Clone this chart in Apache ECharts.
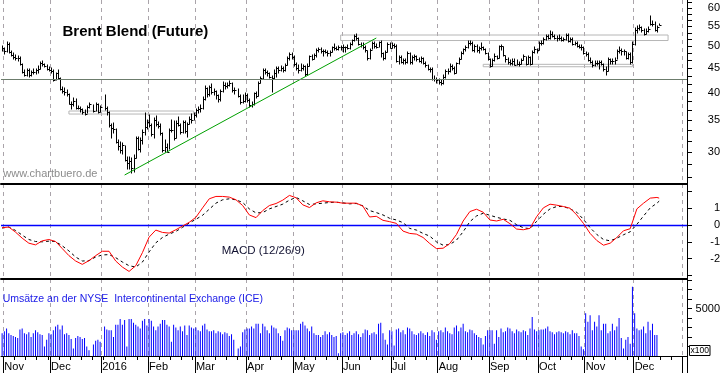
<!DOCTYPE html>
<html><head><meta charset="utf-8">
<script src="https://cdn.jsdelivr.net/npm/echarts@6/dist/echarts.min.js"></script>
<style>html,body{margin:0;padding:0;background:#fff}#c{width:723px;height:373px}</style>
</head><body><div id="c"></div>
<script>
// ---- Data ----
// Daily bars from 2015-10-30 (index 0) on weekday calendar; null = no trading
const closePrice = [
49.56,48.79,50.54,48.58,47.98,47.42,47.19,47.14,45.81,44.06,43.61,44.56,43.57,44.14,44.18,44.66,44.83,46.12,45.87,45.46,44.86,44.61,
44.44,42.49,43.84,43.00,40.73,40.26,40.11,39.73,37.93,37.92,38.45,37.19,37.06,36.88,36.35,36.11,37.36,37.89,null,36.62,37.79,36.46,37.28,
null,37.22,36.42,34.23,33.75,33.55,31.55,30.86,30.31,31.03,28.94,28.55,28.76,27.88,29.25,32.18,30.50,31.80,33.10,33.89,34.74,
34.24,32.72,35.04,34.46,34.06,32.88,30.32,30.84,30.06,33.36,33.39,32.18,34.50,34.28,33.01,34.69,33.27,34.41,35.29,35.10,35.97,
36.81,36.93,37.07,38.72,40.84,39.65,41.07,40.05,40.39,39.53,38.74,40.33,41.54,41.20,41.54,41.79,40.47,40.44,null,39.39,38.29,38.32,39.60,
38.67,37.69,37.87,39.84,39.43,41.94,42.83,44.69,44.18,43.84,43.10,42.91,44.03,45.00,44.53,45.11,44.48,45.74,47.18,48.14,47.37,
45.83,44.97,44.62,45.01,45.37,43.63,45.52,47.59,47.08,47.83,48.97,49.28,48.93,48.81,48.72,48.35,48.61,49.74,49.59,49.32,49.76,49.69,
49.72,49.72,49.64,50.55,51.44,52.51,51.95,50.54,50.35,49.83,48.97,47.19,49.17,50.65,49.96,49.88,50.91,48.41,47.16,48.58,50.61,49.68,
50.35,50.10,46.60,47.43,46.40,46.76,46.25,48.47,46.26,47.37,47.61,46.96,46.66,47.17,46.20,45.69,44.72,44.87,42.70,42.70,42.46,
42.14,41.80,43.10,44.29,44.27,45.39,44.98,44.05,46.04,46.97,48.35,49.23,49.85,50.89,50.88,49.16,49.96,49.05,49.67,49.92,49.26,48.37,47.04,
45.45,46.83,47.63,47.26,49.98,49.99,48.01,47.10,46.29,46.10,46.59,45.77,45.95,45.88,46.83,47.65,45.89,47.35,45.97,48.69,49.24,49.06,
50.89,50.87,51.86,52.51,51.93,53.14,52.41,52.03,52.03,51.95,51.52,51.68,52.67,51.38,51.78,50.52,50.79,49.98,49.72,49.71,48.30,
48.14,46.86,46.35,45.58,46.15,46.04,46.36,45.84,44.75,44.43,46.95,46.63,46.49,46.86,48.90,49.12,48.95,48.80,47.24,48.24,46.38,50.47,
53.94,54.46,54.94,53.93,53.00,53.89,54.33,55.69,55.72,54.02,54.90,55.40
];
const highPrice = [
50.05,49.60,50.90,50.70,48.90,48.30,47.90,47.60,47.50,45.90,44.50,44.90,44.80,44.40,44.90,44.90,45.40,46.40,46.50,46.00,45.60,45.20,
45.00,44.60,44.00,44.50,43.00,41.00,40.90,40.50,39.80,38.30,38.90,38.80,37.50,37.40,36.90,36.80,37.50,38.10,null,37.60,38.00,37.80,37.50,
null,39.50,37.40,36.50,34.40,34.50,33.60,31.90,31.50,31.40,30.90,29.40,29.40,29.20,29.60,32.30,32.30,32.20,33.40,36.20,35.00,
35.90,34.30,35.40,35.80,34.70,34.40,32.90,31.90,31.20,33.50,35.00,34.80,34.80,35.50,34.40,34.90,34.80,34.60,35.50,36.00,36.20,
37.00,37.30,37.60,39.10,41.20,40.90,41.30,41.70,40.70,40.30,39.60,40.50,42.00,41.90,41.90,42.20,41.90,40.80,null,40.70,39.60,39.50,39.90,
39.80,38.80,38.20,40.00,40.20,42.10,43.10,44.90,44.80,44.40,44.00,43.40,44.60,45.30,45.20,45.50,45.20,45.90,47.40,48.50,48.30,
47.70,46.10,45.60,45.80,45.60,45.50,45.90,47.70,47.90,48.10,49.30,49.60,49.60,49.00,49.00,48.80,48.90,49.90,50.50,49.80,50.00,50.10,
50.20,49.90,50.20,50.80,51.60,52.80,52.90,52.00,50.80,50.80,50.00,48.90,49.40,51.00,50.90,50.60,51.10,51.30,48.50,48.80,50.70,50.80,
50.70,50.50,50.30,47.80,47.80,47.00,47.10,48.60,48.30,47.60,47.90,47.80,47.20,47.50,47.30,46.40,45.60,45.00,45.10,43.30,43.00,
42.70,42.40,43.50,44.50,44.90,45.80,45.60,45.20,46.20,47.30,48.70,49.40,50.10,51.20,51.20,50.90,50.20,50.20,49.90,50.80,49.90,49.40,48.50,
47.10,47.10,48.10,47.80,50.10,50.20,49.90,47.80,47.30,46.70,46.90,46.90,46.70,46.40,47.10,47.90,47.50,47.60,47.50,48.80,49.70,49.40,
51.00,51.30,52.10,52.80,52.70,53.70,53.60,52.70,52.40,52.70,52.20,52.10,53.10,52.90,52.00,51.90,51.00,50.90,50.40,50.20,49.90,
48.70,48.30,47.30,46.50,46.50,46.50,46.60,46.50,45.90,45.20,47.20,47.00,47.00,47.20,49.20,49.80,49.40,49.00,48.60,48.50,48.50,50.90,
54.50,55.20,55.40,54.80,54.30,54.20,54.80,57.90,56.40,56.20,55.00,55.50
];
const lowPrice = [
48.90,48.20,48.70,48.40,47.70,47.00,46.80,46.60,45.60,43.90,43.30,43.40,43.20,43.40,43.80,43.80,44.00,44.70,45.50,45.20,44.50,44.30,
43.90,42.20,42.40,42.60,40.50,39.90,39.50,39.40,37.80,36.90,37.50,37.00,36.90,36.50,36.10,35.98,36.20,37.20,null,36.40,36.60,36.30,36.40,
null,36.80,35.90,33.90,32.20,32.90,31.40,30.30,29.90,29.80,28.80,27.70,27.70,27.10,27.30,29.20,30.40,30.00,31.30,32.60,33.50,
33.90,32.40,32.20,34.10,33.70,32.60,30.10,30.00,30.10,30.50,33.10,31.90,32.20,34.00,32.70,33.00,32.90,32.30,34.30,34.60,35.00,
35.60,36.30,36.50,36.90,38.60,39.20,39.40,39.80,39.60,38.80,38.30,38.40,40.20,40.60,40.90,41.20,40.20,39.80,null,39.10,37.90,38.00,38.30,
38.30,37.40,37.30,37.70,39.00,39.40,41.80,42.60,43.80,43.40,42.80,40.10,42.70,43.10,44.00,44.30,44.20,44.30,45.60,46.80,47.00,
45.50,44.60,43.90,44.30,44.60,43.40,43.60,45.40,46.70,46.90,47.40,48.60,48.30,47.80,48.30,47.80,47.70,48.70,49.10,49.00,49.10,49.10,
48.70,48.70,49.30,49.40,50.30,51.30,51.60,50.30,49.80,49.40,48.70,46.70,47.10,49.30,49.50,49.50,49.70,47.50,46.70,47.10,48.70,49.50,
49.60,49.60,46.40,45.80,46.10,45.90,45.90,46.20,46.00,46.00,46.80,46.60,46.30,46.10,46.00,45.30,44.50,44.10,42.50,42.30,41.90,
41.70,41.50,41.60,42.90,43.80,44.20,44.60,43.80,44.00,45.90,46.90,48.20,48.80,49.60,50.30,48.80,48.70,48.70,48.50,49.10,49.00,48.10,46.70,
45.30,45.50,46.60,46.90,47.20,49.10,47.70,46.40,45.90,45.70,45.70,45.60,45.60,45.50,45.80,46.80,45.70,45.90,45.60,45.80,48.50,48.40,
49.00,50.40,50.60,51.60,51.70,51.70,52.20,51.80,51.20,51.60,51.30,51.30,51.60,51.10,51.00,50.40,50.20,49.80,49.50,49.00,48.10,
47.80,46.60,46.10,45.20,45.40,45.70,44.90,45.60,44.40,43.60,44.40,45.90,45.90,46.00,46.90,48.50,48.00,47.90,46.90,46.90,46.00,46.10,
50.40,53.20,54.00,53.50,52.80,52.90,53.50,55.30,55.20,53.70,53.60,55.30
];
// Volume (x100 contracts)
const volume = [
2400,2600,2900,2400,2200,2100,2000,1900,2800,2900,2400,2300,2500,2000,2400,2700,2500,2300,2200,1000,1700,2400,
2300,2700,3100,3300,2800,3200,2300,2400,2200,1800,800,1900,2100,2000,1800,1900,1000,600,null,1200,1600,1700,1500,
null,3100,2800,2700,2700,2000,3300,3300,3900,3300,3800,1000,3900,3900,3500,3300,3100,2900,3700,3900,3200,
3900,3700,3100,2700,3100,3400,3800,3800,3300,3100,1500,3300,3000,2700,3100,2600,3200,2200,3200,3000,2900,
3000,2700,2600,3200,3400,2800,2600,2600,2700,2400,2600,2500,2300,2500,2400,2100,2300,1700,null,800,1000,2500,2800,
2900,2900,3100,2900,3400,3400,2400,3400,3100,2700,2400,3200,3000,2900,2400,2100,1600,2700,3000,2900,2700,
2700,2700,2700,3400,3600,3200,2900,2600,3100,2400,2200,2200,2000,2200,2600,2300,2500,2200,2000,2100,300,2400,
2500,2200,2400,2600,2200,2400,2600,2300,2000,2400,2800,2700,2200,2400,2500,2300,3400,3500,2400,1700,1200,2700,
2600,1100,2800,2900,2500,2700,2300,3000,2900,2600,2300,2200,2400,2600,2400,2200,2500,2100,2700,2500,1700,
2600,2700,2500,3000,2600,2400,2300,3000,3200,2600,3000,3400,2600,2500,2800,2700,2400,2200,2000,1900,1200,2100,2700,
2700,2700,1300,2700,2000,2900,2500,2600,3000,2900,2600,2400,2800,2600,2500,2700,2600,2200,2900,4100,2800,2600,
2700,2800,2800,2900,3100,2600,2500,2300,2500,2600,2500,2400,2600,2500,2300,2700,2400,2400,2100,1000,700,
4500,3600,4300,2700,3600,3100,4300,2700,3400,3400,2400,2600,3400,2700,3100,4000,1900,800,1700,2000,1300,7300,
4500,2900,2700,2800,3100,2400,3600,2700,3400,2200,2200
];
// MACD (12/26/9), read every 3rd trading day (last value = last trading day)
const macdLine = [
-0.16,-0.12,-0.42,-0.78,-1.08,-1.18,-0.94,-0.86,-0.98,-1.40,-1.82,-2.14,-2.34,-2.12,-1.82,-1.56,-1.56,-2.14,-2.50,-2.76,
-2.42,-1.64,-0.72,-0.30,-0.44,-0.48,-0.28,-0.06,0.16,0.46,1.02,1.56,1.70,1.70,1.66,1.50,1.16,0.60,0.44,0.86,
1.16,1.28,1.48,1.76,1.62,1.20,1.04,1.32,1.44,1.38,1.36,1.30,1.30,1.30,1.12,0.48,0.52,0.28,0.20,0.10,
-0.36,-0.50,-0.54,-0.74,-1.10,-1.40,-1.38,-1.10,-0.56,0.24,0.80,0.94,0.76,0.30,0.24,0.34,0.08,-0.24,-0.28,-0.20,
0.50,1.02,1.24,1.18,1.10,1.00,0.60,0.10,-0.50,-0.92,-1.20,-1.08,-0.74,-0.34,-0.22,0.96,1.30,1.60,1.64,1.60
];
const signalLine = [
-0.18,-0.12,-0.32,-0.60,-0.86,-0.98,-1.00,-0.96,-0.98,-1.24,-1.54,-1.90,-2.14,-2.12,-1.90,-1.78,-1.76,-1.94,-2.20,-2.42,
-2.50,-2.20,-1.60,-1.06,-0.74,-0.54,-0.38,-0.14,0.12,0.34,0.58,0.94,1.30,1.50,1.56,1.50,1.34,0.96,0.72,0.74,
0.96,1.10,1.24,1.48,1.64,1.44,1.22,1.26,1.30,1.34,1.36,1.32,1.26,1.28,1.14,0.86,0.74,0.60,0.40,0.30,
0.14,-0.20,-0.30,-0.50,-0.66,-1.00,-1.20,-1.16,-0.90,-0.40,0.20,0.54,0.70,0.58,0.46,0.36,0.28,0.02,-0.16,-0.22,
0.22,0.64,0.96,1.10,1.10,0.96,0.76,0.34,-0.16,-0.56,-0.86,-0.94,-0.78,-0.58,-0.40,0.04,0.54,1.02,1.30,1.42
];
const monthLabels = ['Nov','Dec','2016','Feb','Mar','Apr','May','Jun','Jul','Aug','Sep','Oct','Nov','Dec'];
const priceTickLabels = [30,35,40,45,50,55,60];
const macdTickLabels = [1,0,-1,-2];
const volumeTickLabels = [5000];
// annotation zones: [fromDay, toDay, lowPrice, highPrice]
const zones = [[30,86,36.07,36.6],[152,299,51.38,52.76],[216,283,45.29,45.82]];
const trendLine = [[55,26.9],[168,52.0]];
const supportLevel = 42.63;

// ---- categories: weekday calendar ----
const dates = [];
for (let t = Date.UTC(2015,9,30); t <= Date.UTC(2017,0,3); t += 86400000) {
  const d = new Date(t), wd = d.getUTCDay();
  if (wd === 0 || wd === 6) continue;
  dates.push(d.toISOString().slice(0,10));
}
const isMonthStart = dates.map((d,i) => i > 0 && d.slice(0,7) !== dates[i-1].slice(0,7));
const isMonday = dates.map(d => new Date(d + 'T00:00:00Z').getUTCDay() === 1);
const labelAt = {};
let mk = 0;
dates.forEach((d,i) => { if (isMonthStart[i]) { labelAt[i] = monthLabels[mk] || ''; mk++; } });

const barData = [];
closePrice.forEach((c,i) => { if (c != null) barData.push([i, lowPrice[i], highPrice[i], c]); });
const lastDay = closePrice.length - 1;
const macdData = macdLine.map((v,k) => [Math.min(k*3, lastDay), v]);
const signalData = signalLine.map((v,k) => [Math.min(k*3, lastDay), v]);

const FONT = 'Arial, "Liberation Sans", sans-serif';
const gridLine = { show: true, interval: (i) => isMonthStart[i], lineStyle: { color: '#aaa4aa', width: 1, type: [4,4] } };
function xAx(grid, extra) {
  return Object.assign({
    gridIndex: grid, type: 'category', data: dates, boundaryGap: true,
    axisLine: { show: true, onZero: false, lineStyle: { color: '#000', width: 2 } },
    axisTick: { show: false }, axisLabel: { show: false }, splitLine: gridLine
  }, extra || {});
}
const tick25 = []; for (let v = 25 + 5/3; v < 62.4; v += 5/3) tick25.push(v);

const chart = echarts.init(document.getElementById('c'));
chart.setOption({
  animation: false,
  backgroundColor: '#fff',
  grid: [
    { left: 1, right: 35.5, top: 0, height: 184 },
    { left: 1, right: 35.5, top: 184, height: 95 },
    { left: 1, right: 35.5, top: 279, height: 77 }
  ],
  xAxis: [
    xAx(0),
    xAx(1),
    xAx(2, {
      axisLine: { show: true, onZero: false, lineStyle: { color: '#000', width: 1 } },
      axisTick: { show: true, interval: (i) => isMonthStart[i], length: 17, lineStyle: { color: '#000', width: 1 } },
      axisLabel: { show: true, interval: (i) => isMonthStart[i], formatter: (v, i) => labelAt[i] || '',
        align: 'left', margin: 5, fontSize: 11, color: '#000', fontFamily: FONT }
    }),
    xAx(2, {
      position: 'bottom', axisLine: { show: false, onZero: false }, splitLine: { show: false },
      axisTick: { show: true, interval: (i) => isMonday[i] && !isMonthStart[i], length: 4, lineStyle: { color: '#000', width: 1 } }
    })
  ],
  yAxis: [
    { gridIndex: 0, type: 'log', logBase: 10, position: 'right', min: 25.76, max: 62.44,
      axisLine: { show: true, lineStyle: { color: '#000', width: 1 } },
      axisTick: { show: true, customValues: tick25, length: 5, lineStyle: { color: '#000' } },
      axisLabel: { show: true, customValues: priceTickLabels, formatter: v => String(Math.round(v)),
        align: 'right', margin: 33, fontSize: 11, color: '#000', fontFamily: FONT },
      splitLine: { show: false } },
    { gridIndex: 1, type: 'value', position: 'right', min: -3.21, max: 2.44,
      axisLine: { show: true, lineStyle: { color: '#000', width: 1 } },
      axisTick: { show: true, customValues: [-3,-2,-1,0,1,2], length: 5, lineStyle: { color: '#000' } },
      axisLabel: { show: true, customValues: macdTickLabels, formatter: v => String(v), align: 'right', margin: 33, fontSize: 11, color: '#000', fontFamily: FONT },
      splitLine: { show: false } },
    { gridIndex: 2, type: 'value', position: 'right', min: 0, max: 8105,
      axisLine: { show: true, lineStyle: { color: '#000', width: 1 } },
      axisTick: { show: true, customValues: [1000,2000,3000,4000,5000,6000,7000,8000], length: 5, lineStyle: { color: '#000' } },
      axisLabel: { show: true, customValues: volumeTickLabels, formatter: v => String(v), align: 'right', margin: 33, fontSize: 11, color: '#000', fontFamily: FONT },
      splitLine: { show: false } }
  ],
  series: [
    { type: 'line', xAxisIndex: 0, yAxisIndex: 0, data: closePrice.map(v => v == null ? '-' : v),
      showSymbol: false, silent: true, lineStyle: { opacity: 0 }, z: 1,
      markArea: { silent: true, itemStyle: { color: 'rgba(0,0,0,0)', borderColor: '#b6b6b6', borderWidth: 1 },
        data: zones.map(z => [{ coord: [dates[z[0]], z[2]] }, { coord: [dates[z[1]], z[3]] }]) },
      markLine: { silent: true, symbol: ['none','none'], label: { show: false },
        data: [
          [{ coord: [dates[trendLine[0][0]], trendLine[0][1]], lineStyle: { color: '#00a000', width: 1, type: 'solid' } },
           { coord: [dates[trendLine[1][0]], trendLine[1][1]] }],
          { yAxis: supportLevel, lineStyle: { color: '#6c7c6c', width: 1, type: 'solid' } }
        ] } },
    { type: 'custom', xAxisIndex: 0, yAxisIndex: 0, data: barData, encode: { x: 0, y: [1,2,3] }, z: 3,
      renderItem: (params, api) => {
        const x = api.value(0);
        const lo = api.coord([x, api.value(1)]);
        const hi = api.coord([x, api.value(2)]);
        const cl = api.coord([x, api.value(3)]);
        const px = Math.round(lo[0]) + 0.5;
        const cy = Math.round(cl[1]) + 0.5;
        return { type: 'group', children: [
          { type: 'line', shape: { x1: px, y1: Math.round(lo[1]) + 0.5, x2: px, y2: Math.round(hi[1]) - 0.5 }, style: { stroke: '#000', lineWidth: 1 } },
          { type: 'line', shape: { x1: px, y1: cy, x2: px + 2, y2: cy }, style: { stroke: '#000', lineWidth: 1 } }
        ] };
      } },
    { type: 'line', xAxisIndex: 1, yAxisIndex: 1, data: signalData, showSymbol: false, z: 3,
      lineStyle: { color: '#000', width: 1, type: [3,3] } },
    { type: 'line', xAxisIndex: 1, yAxisIndex: 1, data: macdData, showSymbol: false, z: 4,
      lineStyle: { color: '#ff0000', width: 1 },
      markLine: { silent: true, symbol: ['none','none'], label: { show: false }, z: 2,
        lineStyle: { color: '#0000ff', width: 1.3, type: 'solid' },
        data: [{ yAxis: 0 }] } },
    { type: 'bar', xAxisIndex: 2, yAxisIndex: 2, data: volume.map(v => v == null ? '-' : v),
      barWidth: 1, itemStyle: { color: '#0000ff' } }
  ],
  graphic: [
    { type: 'text', x: 62.5, y: 31.5, z: 10, style: { text: 'Brent Blend (Future)', font: 'bold 15px ' + FONT, fill: '#000', align: 'left', verticalAlign: 'middle' } },
    { type: 'text', x: 3.3, y: 173.5, z: 10, style: { text: 'www.chartbuero.de', font: '11px ' + FONT, fill: '#8c8c8c', align: 'left', verticalAlign: 'middle' } },
    { type: 'text', x: 221.7, y: 251, z: 10, style: { text: 'MACD (12/26/9)', font: '11.5px ' + FONT, fill: '#101030', align: 'left', verticalAlign: 'middle' } },
    { type: 'text', x: 2.7, y: 299, z: 10, style: { text: 'Umsätze an der NYSE  Intercontinental Exchange (ICE)', font: '10.5px ' + FONT, fill: '#2020e8', align: 'left', verticalAlign: 'middle' } },
    { type: 'rect', z: 10, shape: { x: 689.5, y: 345.5, width: 20.5, height: 10 }, style: { fill: '#fff', stroke: '#000', lineWidth: 1 } },
    { type: 'text', x: 690.5, y: 350.8, z: 11, style: { text: 'x100', font: '8.5px ' + FONT, fill: '#000', align: 'left', verticalAlign: 'middle' } }
  ]
});
</script>
</body></html>
